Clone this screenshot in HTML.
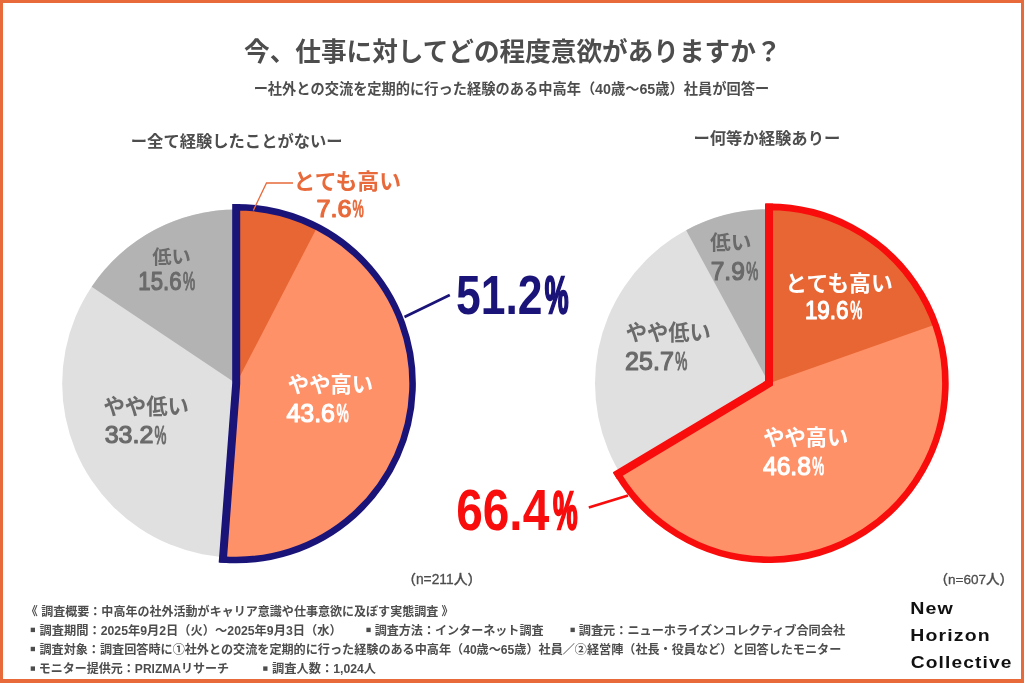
<!DOCTYPE html>
<html lang="ja"><head><meta charset="utf-8"><title>今、仕事に対してどの程度意欲がありますか？</title>
<style>
html,body{margin:0;padding:0;background:#fff;}
body{width:1024px;height:683px;overflow:hidden;}
svg{display:block;}
text{font-family:"Liberation Sans", "Noto Sans CJK JP", sans-serif;white-space:pre;}
.n{font-family:"Liberation Sans",sans-serif;}
</style></head><body>
<svg width="1024" height="683" viewBox="0 0 1024 683">
<rect x="0" y="0" width="1024" height="683" fill="#fff"/>

<circle cx="236.2" cy="383.6" r="174" fill="#E0E0E0"/>
<path d="M236.20,383.60 L91.68,286.70 A174.00,174.00 0 0 1 236.20,209.60 Z" fill="#B3B3B3"/>
<path d="M236.20,383.60 L236.20,207.20 A176.40,176.40 0 1 1 222.91,559.50 Z" fill="#FF9169"/>
<path d="M236.20,383.60 L236.20,207.20 A176.40,176.40 0 0 1 317.27,226.93 Z" fill="#E86633"/>
<path d="M236.20,383.60 L236.20,207.20 A176.40,176.40 0 1 1 222.91,559.50 Z" fill="none" stroke="#1B1478" stroke-width="6.6" stroke-linejoin="miter" stroke-miterlimit="10"/>
<path d="M236.20,203.90 L236.20,383.60 L222.66,562.79" fill="none" stroke="#1B1478" stroke-width="8" stroke-linejoin="miter"/>
<circle cx="769" cy="383.3" r="174" fill="#E0E0E0"/>
<path d="M769.00,383.30 L686.13,230.30 A174.00,174.00 0 0 1 769.00,209.30 Z" fill="#B3B3B3"/>
<path d="M769.00,383.30 L769.00,206.90 A176.40,176.40 0 1 1 617.73,474.05 Z" fill="#FF9169"/>
<path d="M769.00,383.30 L769.00,206.90 A176.40,176.40 0 0 1 935.34,324.59 Z" fill="#E86633"/>
<path d="M769.00,383.30 L769.00,206.90 A176.40,176.40 0 1 1 617.73,474.05 Z" fill="none" stroke="#F80C0C" stroke-width="6.6" stroke-linejoin="miter" stroke-miterlimit="10"/>
<path d="M769.00,203.60 L769.00,383.30 L614.90,475.74" fill="none" stroke="#F80C0C" stroke-width="8" stroke-linejoin="miter"/>
<polyline points="253.3,210.5 266.5,183 293,183" fill="none" stroke="#E8693A" stroke-width="1.3"/>
<line x1="404.5" y1="317" x2="449.8" y2="295" stroke="#1B1478" stroke-width="2.6"/>
<line x1="588.8" y1="507.6" x2="628" y2="495.6" stroke="#F80C0C" stroke-width="2.6"/>
<text id="title" y="61.15" font-size="25.64" fill="#4D4D4D" font-weight="700" x="244.10">今、仕事に対してどの程度意欲がありますか？</text>
<text id="sub" y="94.32" font-size="14.24" fill="#4D4D4D" font-weight="700" x="253.65">ー社外との交流を定期的に行った経験のある中高年（40歳〜65歳）社員が回答ー</text>
<text id="headL" y="146.70" font-size="16.31" fill="#4D4D4D" font-weight="700" x="130.80">ー全て経験したことがないー</text>
<text id="headR" y="144.38" font-size="16.34" fill="#4D4D4D" font-weight="700" x="693.40">ー何等か経験ありー</text>
<text id="l_tt" y="188.70" font-size="21.85" fill="#E8693A" font-weight="700" x="293.55">とても高い</text>
<text id="l_ttn" y="217.10" font-size="23.38" fill="#E8693A" class="n" font-weight="400" stroke="#E8693A" stroke-width="1.2" stroke-linejoin="round"><tspan id="l_ttn_0" x="316.40" textLength="35.02" lengthAdjust="spacingAndGlyphs">7.6</tspan><tspan id="l_ttn_1" x="352.55" font-size="24.23" y="217.45" textLength="11.21" lengthAdjust="spacingAndGlyphs">%</tspan></text>
<text id="l_hk" y="263.70" font-size="19.36" fill="#6A6A6A" font-weight="700" x="152.25">低い</text>
<text id="l_hkn" y="290.00" font-size="26.00" fill="#6A6A6A" class="n" font-weight="400" stroke="#6A6A6A" stroke-width="1.2" stroke-linejoin="round"><tspan id="l_hkn_0" x="138.30" textLength="43.19" lengthAdjust="spacingAndGlyphs">15.6</tspan><tspan id="l_hkn_1" x="182.90" font-size="26.27" y="290.25" textLength="12.17" lengthAdjust="spacingAndGlyphs">%</tspan></text>
<text id="l_yh" y="414.40" font-size="21.38" fill="#6A6A6A" font-weight="700" x="103.45">やや低い</text>
<text id="l_yhn" y="443.40" font-size="24.69" fill="#6A6A6A" class="n" font-weight="400" stroke="#6A6A6A" stroke-width="1.2" stroke-linejoin="round"><tspan id="l_yhn_0" x="104.65" textLength="48.88" lengthAdjust="spacingAndGlyphs">33.2</tspan><tspan id="l_yhn_1" x="154.61" font-size="25.37" y="443.55" textLength="11.90" lengthAdjust="spacingAndGlyphs">%</tspan></text>
<text id="l_yt" y="391.95" font-size="21.32" fill="#ffffff" font-weight="700" x="287.85">やや高い</text>
<text id="l_ytn" y="422.00" font-size="26.00" fill="#ffffff" class="n" font-weight="400" stroke="#ffffff" stroke-width="1.2" stroke-linejoin="round"><tspan id="l_ytn_0" x="286.40" textLength="48.56" lengthAdjust="spacingAndGlyphs">43.6</tspan><tspan id="l_ytn_1" x="336.38" font-size="26.40" y="422.25" textLength="12.22" lengthAdjust="spacingAndGlyphs">%</tspan></text>
<text id="big_l" y="314.25" font-size="54.71" fill="#1B1478" class="n" font-weight="700"><tspan id="big_l_0" x="456.05" textLength="86.48" lengthAdjust="spacingAndGlyphs">51.2</tspan><tspan id="big_l_1" x="544.86" font-size="51.69" y="313.25" stroke="#1B1478" stroke-width="2.4" textLength="23.84" lengthAdjust="spacingAndGlyphs">%</tspan></text>
<text id="r_hk" y="250.12" font-size="20.77" fill="#6A6A6A" font-weight="700" x="709.95">低い</text>
<text id="r_hkn" y="280.20" font-size="25.67" fill="#6A6A6A" class="n" font-weight="400" stroke="#6A6A6A" stroke-width="1.2" stroke-linejoin="round"><tspan id="r_hkn_0" x="710.70" textLength="34.12" lengthAdjust="spacingAndGlyphs">7.9</tspan><tspan id="r_hkn_1" x="746.23" font-size="26.00" y="280.40" textLength="12.05" lengthAdjust="spacingAndGlyphs">%</tspan></text>
<text id="r_tt" y="290.70" font-size="21.85" fill="#ffffff" font-weight="700" x="785.25">とても高い</text>
<text id="r_ttn" y="319.00" font-size="25.67" fill="#ffffff" class="n" font-weight="400" stroke="#ffffff" stroke-width="1.2" stroke-linejoin="round"><tspan id="r_ttn_0" x="804.90" textLength="43.63" lengthAdjust="spacingAndGlyphs">19.6</tspan><tspan id="r_ttn_1" x="850.13" font-size="26.00" y="319.25" textLength="12.05" lengthAdjust="spacingAndGlyphs">%</tspan></text>
<text id="r_yh" y="340.13" font-size="21.26" fill="#6A6A6A" font-weight="700" x="625.65">やや低い</text>
<text id="r_yhn" y="369.60" font-size="25.67" fill="#6A6A6A" class="n" font-weight="400" stroke="#6A6A6A" stroke-width="1.2" stroke-linejoin="round"><tspan id="r_yhn_0" x="625.10" textLength="48.73" lengthAdjust="spacingAndGlyphs">25.7</tspan><tspan id="r_yhn_1" x="675.21" font-size="26.14" y="369.95" textLength="12.11" lengthAdjust="spacingAndGlyphs">%</tspan></text>
<text id="r_yt" y="444.60" font-size="21.26" fill="#ffffff" font-weight="700" x="763.25">やや高い</text>
<text id="r_ytn" y="474.90" font-size="25.67" fill="#ffffff" class="n" font-weight="400" stroke="#ffffff" stroke-width="1.2" stroke-linejoin="round"><tspan id="r_ytn_0" x="763.00" textLength="47.85" lengthAdjust="spacingAndGlyphs">46.8</tspan><tspan id="r_ytn_1" x="812.33" font-size="26.00" y="475.05" textLength="11.92" lengthAdjust="spacingAndGlyphs">%</tspan></text>
<text id="big_r" y="529.95" font-size="56.83" fill="#F80C0C" class="n" font-weight="700"><tspan id="big_r_0" x="456.25" textLength="92.95" lengthAdjust="spacingAndGlyphs">66.4</tspan><tspan id="big_r_1" x="553.09" font-size="53.70" y="528.90" stroke="#F80C0C" stroke-width="2.4" textLength="24.61" lengthAdjust="spacingAndGlyphs">%</tspan></text>
<text id="n_l" y="583.50" font-size="13.81" fill="#4D4D4D" font-weight="500" stroke="#4D4D4D" stroke-width="0.3" stroke-linejoin="round" x="402.15">（n=211人）</text>
<text id="n_r" y="583.67" font-size="13.56" fill="#4D4D4D" font-weight="500" stroke="#4D4D4D" stroke-width="0.3" stroke-linejoin="round" x="934.40">（n=607人）</text>
<text id="f1" y="615.92" font-size="12.04" fill="#4D4D4D" font-weight="700" x="25.85">《 調査概要：中高年の社外活動がキャリア意識や仕事意欲に及ぼす実態調査 》</text>
<text id="f2a" y="634.85" font-size="12.26" fill="#4D4D4D" font-weight="700" x="39.45">調査期間：2025年9月2日（火）〜2025年9月3日（水）</text>
<text id="f2b" y="634.85" font-size="12.07" fill="#4D4D4D" font-weight="700" x="374.65">調査方法：インターネット調査</text>
<text id="f2c" y="634.97" font-size="12.16" fill="#4D4D4D" font-weight="700" x="578.75">調査元：ニューホライズンコレクティブ合同会社</text>
<text id="f3" y="653.85" font-size="12.11" fill="#4D4D4D" font-weight="700" x="39.45">調査対象：調査回答時に①社外との交流を定期的に行った経験のある中高年（40歳〜65歳）社員／②経営陣（社長・役員など）と回答したモニター</text>
<text id="f4a" y="673.05" font-size="12.03" fill="#4D4D4D" font-weight="700" x="38.75">モニター提供元：PRIZMAリサーチ</text>
<text id="f4b" y="672.92" font-size="12.24" fill="#4D4D4D" font-weight="700" x="272.05">調査人数：1,024人</text>
<text id="lg1" y="613.75" font-size="17.36" fill="#111111" class="n" font-weight="700" letter-spacing="1.0" x="910.25" textLength="43.77" lengthAdjust="spacingAndGlyphs">New</text>
<text id="lg2" y="641.15" font-size="17.00" fill="#111111" class="n" font-weight="700" letter-spacing="1.0" x="910.25" textLength="80.47" lengthAdjust="spacingAndGlyphs">Horizon</text>
<text id="lg3" y="667.75" font-size="17.00" fill="#111111" class="n" font-weight="700" letter-spacing="1.0" x="910.75" textLength="101.86" lengthAdjust="spacingAndGlyphs">Collective</text>
<rect x="30.7" y="627.7" width="4.3" height="4.4" fill="#4D4D4D"/>
<rect x="30.7" y="646.8" width="4.3" height="4.4" fill="#4D4D4D"/>
<rect x="30.7" y="666.4" width="4.3" height="4.4" fill="#4D4D4D"/>
<rect x="366.4" y="627.7" width="4.3" height="4.4" fill="#4D4D4D"/>
<rect x="570.5" y="627.7" width="4.3" height="4.4" fill="#4D4D4D"/>
<rect x="263.2" y="666.4" width="4.3" height="4.4" fill="#4D4D4D"/>
<rect x="1.5" y="1.5" width="1021" height="680" fill="none" stroke="#E8693A" stroke-width="3"/>
<rect x="0" y="679" width="1024" height="4" fill="#E8693A"/>
</svg></body></html>
